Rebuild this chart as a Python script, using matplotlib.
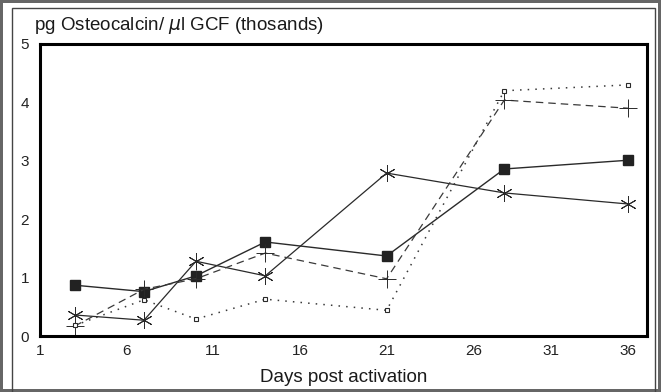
import numpy as np
import matplotlib
matplotlib.use('Agg')
from matplotlib import pyplot as plt
from matplotlib.patches import Rectangle

plt.rcParams['font.family'] = ['Liberation Sans', 'DejaVu Sans']

# Datos (miles de pg osteocalcina / ul GCF)
dias = [3, 7, 10, 14, 21, 28, 36]
cuadro_lleno = [0.87, 0.76, 1.03, 1.61, 1.37, 2.86, 3.01]
asterisco = [0.36, 0.27, 1.28, 1.03, 2.79, 2.45, 2.26]
cruz = [0.17, 0.80, 0.98, 1.42, 0.98, 4.04, 3.90]
cuadro_abierto = [0.18, 0.62, 0.29, 0.63, 0.44, 4.20, 4.30]

ticks_x = [1, 6, 11, 16, 21, 26, 31, 36]
ticks_y = [0, 1, 2, 3, 4, 5]

# el eje original se comprime un poco despues del dia 26
nodos_d = [0, 26, 40]
nodos_e = [0, 26, 26 + 14 * 0.895]


def adelante(d):
    return np.interp(d, nodos_d, nodos_e)


def atras(e):
    return np.interp(e, nodos_e, nodos_d)


fig = plt.figure(figsize=(6.61, 3.92), dpi=100)
ax = fig.add_axes([40 / 661, 1 - 336 / 392, 607 / 661, 292 / 392])
ax.set_xscale('function', functions=(adelante, atras))

gris = '#2a2a2a'
ax.plot(dias, cuadro_lleno, '-', color=gris, lw=1.0, marker='s', ms=7,
        mfc='#222222', mec='#222222')
ax.plot(dias, asterisco, '-', color=gris, lw=0.9, marker=(6, 2, 0), ms=12,
        mew=0.7, mec=gris)
ax.plot(dias, cruz, '--', color='#3a3a3a', lw=0.9, dashes=(6, 4), marker='+',
        ms=13, mew=0.7, mec=gris)
ax.plot(dias, cuadro_abierto, ':', color='#3a3a3a', lw=1.1, dashes=(1, 4),
        marker='s', ms=3.5, mfc='white', mec=gris, mew=0.8)

ax.set_xlim(1, 37.2)
ax.set_ylim(0, 5)
ax.set_xticks(ticks_x)
ax.set_xticklabels([str(t) for t in ticks_x])
ax.set_yticks(ticks_y)
ax.tick_params(length=0, labelsize=11, colors='#222222')
ax.tick_params(axis='x', pad=6)
ax.tick_params(axis='y', pad=8)
for s in ax.spines.values():
    s.set_linewidth(2.2)
    s.set_color('black')

ax.set_xlabel('Days post activation', fontsize=13.5, color='#1a1a1a', labelpad=8)
fig.text(34 / 661, 1 - 25 / 392, r'pg Osteocalcin/ $\mu$l GCF (thosands)',
         fontsize=13.5, color='#1a1a1a', va='center', ha='left')

# marco de la figura escaneada
fig.patches.append(Rectangle((12 / 661, -0.01), 643 / 661, 1 - 8 / 392 + 0.01,
                             transform=fig.transFigure, fill=False,
                             edgecolor='#444444', lw=1.0))
fig.patch.set_edgecolor('#666666')
fig.patch.set_linewidth(3)

fig.savefig('out.png', dpi=100)
